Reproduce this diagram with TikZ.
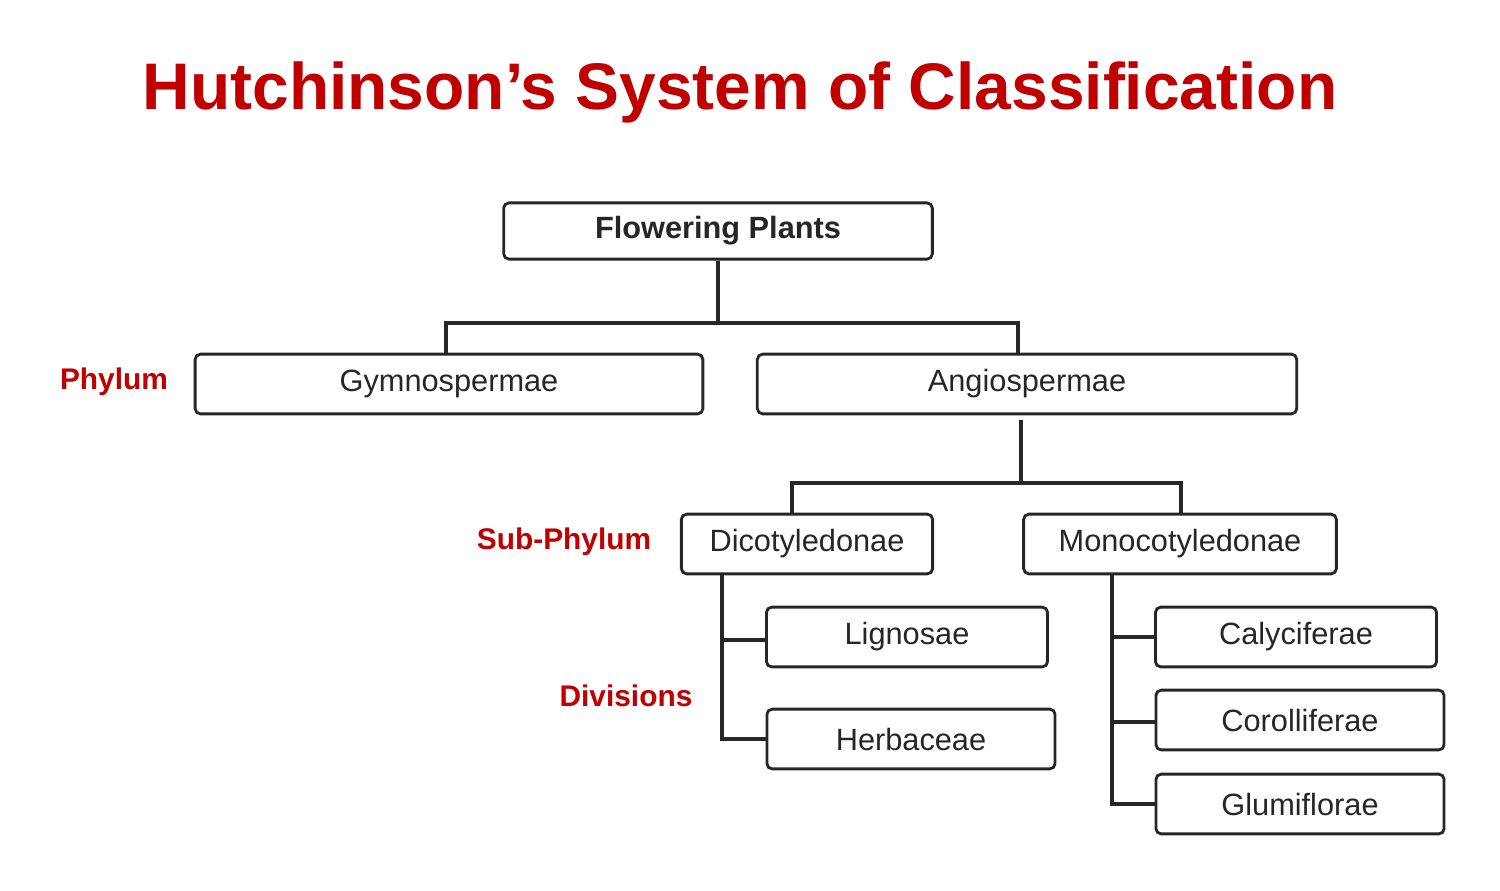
\documentclass[tikz,border=0pt]{standalone}
\usepackage{fontspec}
\setmainfont{Liberation Sans}
\usetikzlibrary{positioning}
\definecolor{hred}{HTML}{C00000}
\tikzset{
  box/.style={draw=black!85, line width=1.6pt, rounded corners=3pt, minimum height=34pt, inner sep=0pt, font=\fontsize{17.5}{20}\selectfont, text=black!85},
  link/.style={draw=black!85, line width=1.9pt},
  rank/.style={text=hred, font=\fontsize{17}{20}\selectfont\bfseries}
}
\begin{document}
\begin{tikzpicture}[x=0.02cm, y=-0.02cm]
	\useasboundingbox (0,0) rectangle (1500,890);
	% title
	\node[text=hred, font=\fontsize{37.5}{44}\selectfont\bfseries] (title) at (740,92) {Hutchinson’s System of Classification};
	% boxes
	\node[box, minimum width=244pt, minimum height=32pt, font=\fontsize{17.5}{20}\selectfont\bfseries] (fp) at (718,231) {Flowering Plants};
	\node[box, minimum width=289pt] (gym) at (449,384) {Gymnospermae};
	\node[box, minimum width=307pt] (ang) at (1027,384) {Angiospermae};
	\node[box, minimum width=143pt] (dic) at (807,544) {Dicotyledonae};
	\node[box, minimum width=178pt] (mon) at (1180,544) {Monocotyledonae};
	\node[box, minimum width=160pt] (lig) at (907,637) {Lignosae};
	\node[box, minimum width=164pt] (her) at (911,739) {Herbaceae};
	\node[box, minimum width=160pt] (cal) at (1296,637) {Calyciferae};
	\node[box, minimum width=164pt] (cor) at (1300,720) {Corolliferae};
	\node[box, minimum width=164pt] (glu) at (1300,804) {Glumiflorae};
	% ranks
	\node[rank] (phy) at (114,382) {Phylum};
	\node[rank] (sub) at (564,542) {Sub-Phylum};
	\node[rank] (div) at (626,696) {Divisions};
	% links
	\draw[link] (fp.south) -- (718,323) coordinate (t1);
	\draw[link] (gym.north -| 446,0) |- (t1) -| (ang.north -| 1018,0);
	\draw[link] (1021,420) -- (1021,483) coordinate (t2);
	\draw[link] (dic.north -| 792,0) |- (t2) -| (mon.north -| 1181,0);
	\draw[link] (dic.south -| 722,0) |- (her.west);
	\draw[link] (722,640) -- (lig.west |- 722,640);
	\draw[link] (mon.south -| 1112,0) |- (glu.west);
	\draw[link] (1112,637) -- (cal.west);
	\draw[link] (1112,722) -- (cor.west |- 1112,722);
\end{tikzpicture}
\end{document}
